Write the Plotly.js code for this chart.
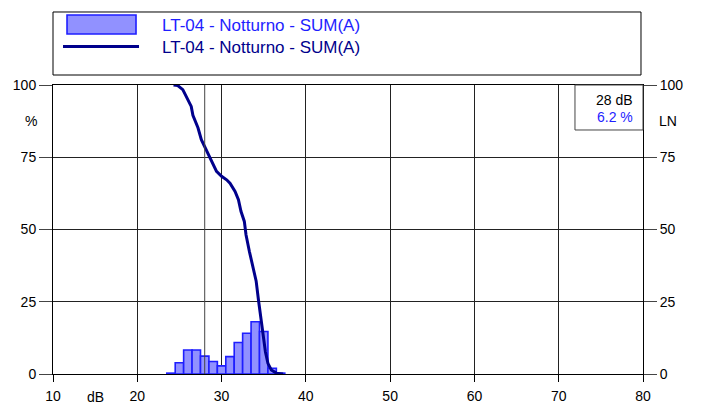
<!DOCTYPE html>
<html>
<head>
<meta charset="utf-8">
<script src="https://cdn.plot.ly/plotly-3.0.1.min.js"></script>
<style>html,body{margin:0;padding:0;background:#fff;}#chart{width:701px;height:405px;}</style>
</head>
<body>
<div id="chart"></div>
<script>
// Histogram (class values, dB) and percentages
const binLevels = [24, 25, 26, 27, 28, 29, 30, 31, 32, 33, 34, 35, 36, 37];
const binPercent = [0.3, 3.9, 8.3, 8.3, 6.2, 4.3, 2.8, 6.0, 10.9, 14.1, 18.1, 14.7, 2.0, 0.3];

// Cumulative exceedance curve LN
const curveLevels = [24.3, 24.8, 25.4, 26.0, 26.4, 26.6, 27.2, 27.6, 28.2, 28.8, 29.4, 30.0, 30.6, 31.0, 31.6, 32.0, 32.3, 32.7, 32.9, 33.3, 33.7, 34.1, 34.4, 34.7, 35.0, 35.2, 35.5, 35.9, 36.5, 37.3];
const curvePercent = [100, 99.8, 98.4, 95.2, 92.6, 89.5, 85.2, 81.1, 77.6, 73.6, 70.1, 68.4, 67.2, 66.0, 63.2, 60.3, 56.3, 52.8, 48.2, 42.4, 37.8, 32.2, 25.1, 18.7, 12.9, 7.7, 3.7, 1.4, 0.3, 0];

const xTicks = [10, 20, 30, 40, 50, 60, 70, 80];
const yTicks = [0, 25, 50, 75, 100];
const seriesName = "LT-04 - Notturno - SUM(A)";
const cursorLevel = 28;
const cursorLabel = "28 dB";
const cursorValue = "6.2 %";

const BLUE = "rgb(30,30,255)";
const NAVY = "rgb(0,0,140)";
const FONT = "Liberation Sans, Arial, sans-serif";

const traces = [
  {
    type: "bar", x: binLevels, y: binPercent, width: 1,
    name: '<span style="color:' + BLUE + '">' + seriesName + '</span>',
    marker: {color: "white", line: {color: BLUE, width: 1.6},
      pattern: {shape: ".", fgcolor: BLUE, bgcolor: "white", size: 2, solidity: 0.9, fillmode: "overlay"}}
  },
  {
    type: "scatter", mode: "lines", x: curveLevels, y: curvePercent,
    name: '<span style="color:' + NAVY + '">' + seriesName + '</span>',
    line: {color: NAVY, width: 3}
  },
  {
    type: "scatter", mode: "lines", x: [80], y: [0], yaxis: "y2", showlegend: false,
    hoverinfo: "skip", line: {width: 0}
  }
];

const layout = {
  width: 701, height: 405,
  margin: {l: 53, r: 58, t: 85, b: 31, pad: 0, autoexpand: false},
  paper_bgcolor: "white", plot_bgcolor: "white",
  font: {family: FONT, size: 14, color: "black"},
  showlegend: true,
  legend: {
    x: 0.0085, xanchor: "left", y: 1.268, yanchor: "top",
    bgcolor: "rgba(0,0,0,0)", borderwidth: 0,
    font: {family: FONT, size: 17}, itemwidth: 94,
    traceorder: "normal"
  },
  bargap: 0,
  xaxis: {
    range: [10, 80], tickvals: xTicks, ticktext: xTicks.map(String),
    showgrid: true, gridcolor: "#222", gridwidth: 1,
    zeroline: false, showline: true, linecolor: "black", linewidth: 1, mirror: true,
    ticks: "outside", ticklen: 7, tickcolor: "black", tickfont: {size: 14},
    ticklabelstandoff: 2,
    fixedrange: true
  },
  yaxis: {
    range: [0, 100], tickvals: yTicks, ticktext: yTicks.map(String),
    showgrid: true, gridcolor: "#222", gridwidth: 1,
    zeroline: false, showline: true, linecolor: "black", linewidth: 1, mirror: true,
    ticks: "outside", ticklen: 13, tickcolor: "#444", tickfont: {size: 14},
    fixedrange: true
  },
  yaxis2: {
    range: [0, 100], overlaying: "y", side: "right",
    tickvals: yTicks, ticktext: yTicks.map(String),
    showgrid: false, zeroline: false, showline: false,
    ticks: "outside", ticklen: 13, tickcolor: "#444", tickfont: {size: 14},
    fixedrange: true
  },
  shapes: [
    {type: "line", xref: "x", yref: "paper", x0: cursorLevel, x1: cursorLevel, y0: 0, y1: 1,
     line: {color: "#444", width: 1}},
    {type: "rect", xref: "paper", yref: "paper", x0: 0, x1: 0.9966, y0: 1.0346, y1: 1.2526,
     line: {color: "black", width: 1}, fillcolor: "rgba(0,0,0,0)"},
    {type: "rect", xref: "paper", yref: "paper", x0: 0.8847, x1: 1, y0: 0.8443, y1: 1,
     line: {color: "#444", width: 1}, fillcolor: "white"}
  ],
  annotations: [
    {xref: "paper", yref: "paper", x: 0.9865, y: 0.947, xanchor: "right", yanchor: "middle",
     text: cursorLabel, showarrow: false, font: {size: 14, color: "black"}},
    {xref: "paper", yref: "paper", x: 0.9865, y: 0.888, xanchor: "right", yanchor: "middle",
     text: cursorValue, showarrow: false, font: {size: 14, color: BLUE}},
    {xref: "paper", yref: "paper", x: -0.037, y: 0.875, xanchor: "center", yanchor: "middle",
     text: "%", showarrow: false, font: {size: 14}},
    {xref: "paper", yref: "paper", x: 1.043, y: 0.875, xanchor: "center", yanchor: "middle",
     text: "LN", showarrow: false, font: {size: 14}},
    {xref: "x", yref: "paper", x: 15, y: -0.08, xanchor: "center", yanchor: "middle",
     text: "dB", showarrow: false, font: {size: 14}}
  ]
};

function shiftGroup(g, sym, targetY) {
  if (!g || !sym) return;
  const r = sym.getBoundingClientRect();
  const cy = r.top + r.height / 2;
  const dy = targetY - cy;
  const t = g.getAttribute("transform") || "translate(0,0)";
  const m = /translate\(\s*([-\d.e]+)[ ,]+([-\d.e]+)\s*\)/.exec(t);
  const x = m ? parseFloat(m[1]) : 0;
  const y = m ? parseFloat(m[2]) : 0;
  g.setAttribute("transform", "translate(" + x + "," + (y + dy) + ")");
}

Plotly.newPlot("chart", traces, layout, {displayModeBar: false, staticPlot: true}).then(function (gd) {
  // widen legend symbols and tighten spacing to match the original legend style
  const groups = gd.querySelectorAll(".legend .traces");
  if (groups.length >= 2) {
    groups[0].querySelectorAll(".legendpoints path").forEach(function (p) {
      p.setAttribute("d", "M-43,-9.5H26V9.5H-43Z");
    });
    groups[1].querySelectorAll(".legendlines path").forEach(function (p) {
      p.setAttribute("d", "M5,0h76");
    });
    shiftGroup(groups[0], groups[0].querySelector(".legendpoints path"), 24.5);
    shiftGroup(groups[1], groups[1].querySelector(".legendlines path"), 46.5);
  }
});
</script>
</body>
</html>
